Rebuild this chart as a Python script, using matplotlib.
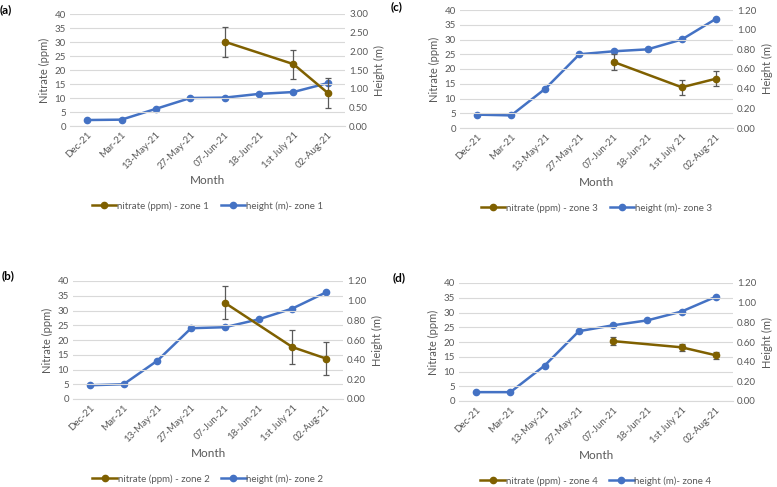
import matplotlib.pyplot as plt
from matplotlib.lines import Line2D
from matplotlib.ticker import FormatStrFormatter

months = ['Dec-21', 'Mar-21', '13-May-21', '27-May-21', '07-Jun-21', '18-Jun-21', '1st July 21', '02-Aug-21']

# height (m) per zone, all 8 dates
height_z1 = [0.16, 0.17, 0.46, 0.75, 0.76, 0.86, 0.91, 1.15]
height_z2 = [0.14, 0.15, 0.39, 0.72, 0.73, 0.81, 0.92, 1.085]
height_z3 = [0.136, 0.128, 0.40, 0.75, 0.78, 0.80, 0.90, 1.11]
height_z4 = [0.09, 0.09, 0.36, 0.71, 0.77, 0.82, 0.91, 1.06]

# nitrate (ppm) only measured from 07-Jun on
nitrate_idx = [4, 6, 7]
nitrate_z1 = [30.1, 22.1, 11.8]
nitrate_err_z1 = [5.3, 5.2, 5.3]
nitrate_z2 = [32.6, 17.6, 13.7]
nitrate_err_z2 = [5.6, 5.7, 5.7]
nitrate_z3 = [22.4, 13.8, 16.7]
nitrate_err_z3 = [2.6, 2.6, 2.6]
nitrate_z4 = [20.3, 18.2, 15.5]
nitrate_err_z4 = [1.3, 1.2, 1.2]

plt.rcParams['font.family'] = ['Lato', 'DejaVu Sans']

BROWN = '#7F6000'
BLUE = '#4472C4'
GREY = '#595959'
W, H = 777, 487

fig = plt.figure(figsize=(W / 100, H / 100), dpi=100)

# (label, zone, heights, nitrate, err, right max, axes box in px: left, top, right, bottom)
panels = [
    ('(a)', 1, height_z1, nitrate_z1, nitrate_err_z1, 3.0, (70, 14, 345, 126), (0, 10)),
    ('(c)', 3, height_z3, nitrate_z3, nitrate_err_z3, 1.2, (460, 10, 733, 128), (391, 7)),
    ('(b)', 2, height_z2, nitrate_z2, nitrate_err_z2, 1.2, (73, 281, 343, 399), (2, 276)),
    ('(d)', 4, height_z4, nitrate_z4, nitrate_err_z4, 1.2, (459, 283, 733, 401), (393, 278)),
]

for label, zone, hts, nit, err, rmax, (l, t, r, b), (lx, ly) in panels:
    ax = fig.add_axes([l / W, 1 - b / H, (r - l) / W, (b - t) / H])
    ax2 = ax.twinx()
    x = list(range(len(months)))

    ax2.plot(x, hts, color=BLUE, lw=1.8, marker='o', ms=4.5, zorder=3)
    ax.errorbar(nitrate_idx, nit, yerr=err, color=BROWN, lw=1.8, marker='o', ms=4.5,
                ecolor=GREY, elinewidth=0.9, capsize=2, capthick=0.9, zorder=4)
    ax.set_zorder(ax2.get_zorder() + 1)
    ax.patch.set_visible(False)

    ax.set_xlim(-0.5, 7.5)
    ax.set_ylim(0, 40)
    ax.set_yticks(range(0, 41, 5))
    ax2.set_ylim(0, rmax)
    step = rmax / 6
    ax2.set_yticks([step * i for i in range(7)])
    ax2.yaxis.set_major_formatter(FormatStrFormatter('%.2f'))

    ax.set_xticks(x)
    ax.set_xticklabels(months, rotation=45, ha='right', rotation_mode='anchor')
    ax.grid(axis='y', color='#D9D9D9', lw=0.8)
    ax.set_axisbelow(True)
    for a in (ax, ax2):
        for s in a.spines.values():
            s.set_visible(False)
        a.tick_params(length=0, labelsize=7, colors=GREY, pad=3)
    ax.spines['bottom'].set_visible(True)
    ax.spines['bottom'].set_color('#D9D9D9')

    ax.set_ylabel('Nitrate (ppm)', fontsize=8, color=GREY, labelpad=3)
    ax2.set_ylabel('Height (m)', fontsize=8, color=GREY, labelpad=4)
    ax.set_xlabel('Month', fontsize=8.5, color=GREY, labelpad=3)

    fig.text(lx / W, 1 - ly / H, label, fontsize=8.5, fontweight='bold', va='center', ha='left')

    handles = [Line2D([], [], color=BROWN, lw=1.8, marker='o', ms=4.5),
               Line2D([], [], color=BLUE, lw=1.8, marker='o', ms=4.5)]
    names = ['nitrate (ppm) - zone %d' % zone, 'height (m)- zone %d' % zone]
    fig.legend(handles, names, loc='center', ncol=2, frameon=False, fontsize=7,
               labelcolor=GREY, handlelength=2.5, handletextpad=0.1, columnspacing=1.2,
               bbox_to_anchor=((l + r) / 2 / W, 1 - (b + 80) / H))

fig.savefig('out.png', dpi=100)
